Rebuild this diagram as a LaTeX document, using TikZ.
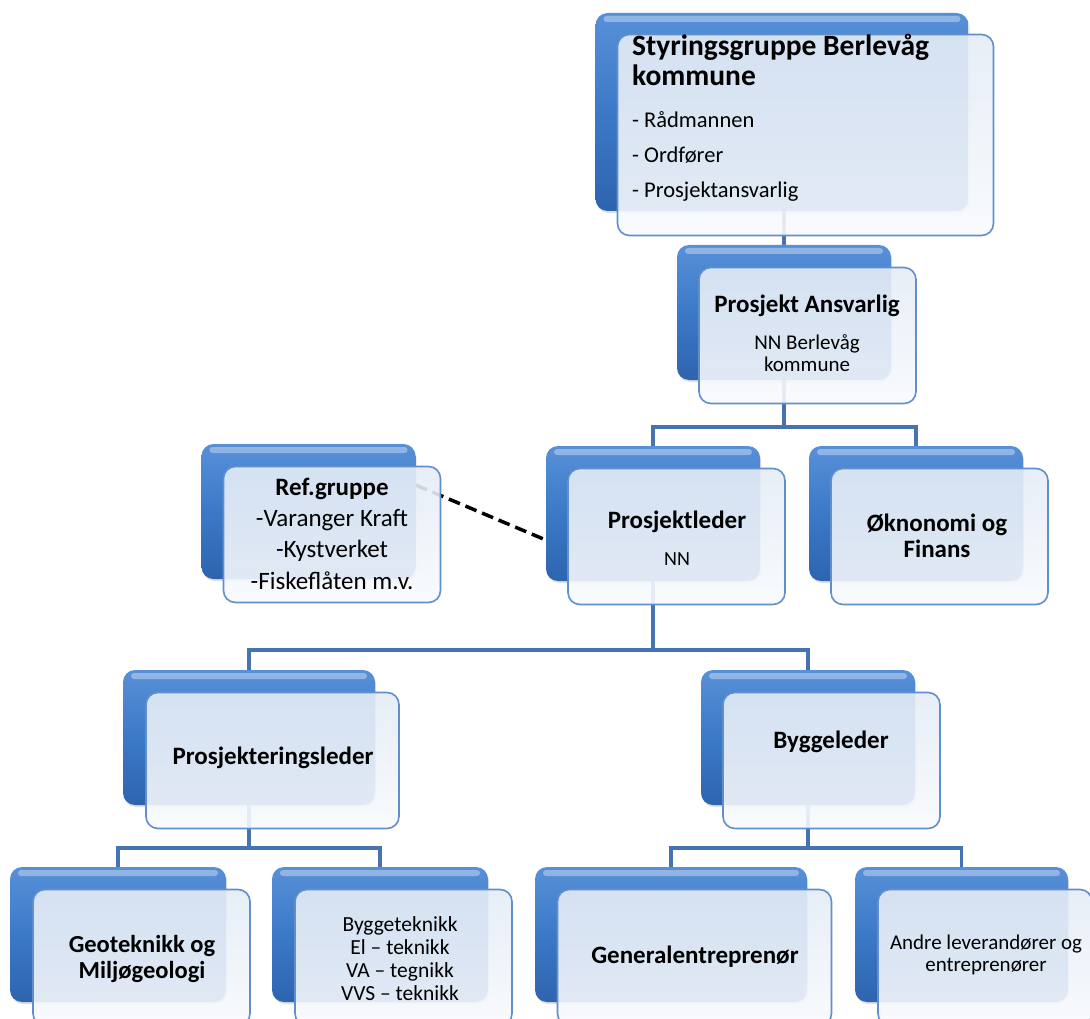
\documentclass[tikz,border=0pt]{standalone}
\usepackage{fontspec}
\setmainfont{Carlito}
\usetikzlibrary{shadows, backgrounds}

\definecolor{boxblue}{RGB}{59,121,199}
\definecolor{boxbluetop}{RGB}{88,144,216}
\definecolor{boxbluebot}{RGB}{46,100,174}
\definecolor{linkblue}{RGB}{70,116,178}
\definecolor{frontline}{RGB}{96,143,203}
\definecolor{fronttop}{RGB}{228,236,246}
\definecolor{frontbot}{RGB}{248,250,253}

\begin{document}
\begin{tikzpicture}[
        x=1pt, y=-1pt,
        back/.style={rectangle, rounded corners=12pt, top color=boxbluetop, bottom color=boxbluebot, middle color=boxblue,
            minimum width=214pt, minimum height=135pt,
            drop shadow={opacity=0.25, shadow xshift=1pt, shadow yshift=-2pt},
            path picture={\fill[white, opacity=0.35, rounded corners=3pt]
                ([xshift=8pt, yshift=-3pt]path picture bounding box.north west) rectangle
                ([xshift=-8pt, yshift=-9pt]path picture bounding box.north east);}},
        front/.style={rectangle, rounded corners=12pt, draw=frontline, line width=1.6pt, top color=fronttop, bottom color=frontbot,
            fill opacity=0.9, minimum width=217pt, minimum height=136pt},
        head/.style={anchor=north, inner sep=0pt, align=center, font=\fontsize{25}{26}\selectfont\bfseries},
        sub/.style={anchor=north, inner sep=0pt, align=center, font=\fontsize{21}{22}\selectfont},
        link/.style={draw=linkblue, line width=3.5pt},
        reflink/.style={draw=black, line width=3.5pt, dash pattern=on 12pt off 6pt}
    ]
        \useasboundingbox (0,0) rectangle (1090,1019);

        % Styringsgruppe
        \node[back, minimum width=373pt, minimum height=198pt] (sty) at (782,112) {};
        \node[front, minimum width=376pt, minimum height=201pt] (styF) at (805.5,135) {};
        \node[anchor=north west, inner sep=0pt, align=left, font=\fontsize{29.5}{30}\selectfont\bfseries] (styT) at (632,34) {Styringsgruppe Berlevåg\\kommune};
        \node[anchor=north west, inner sep=0pt, align=left, font=\fontsize{22.5}{35}\selectfont] (styL) at (632,111) {- Rådmannen\\- Ordfører\\- Prosjektansvarlig};

        % Prosjekt ansvarlig
        \node[back] (pa) at (784,312.5) {};
        \node[front] (paF) at (807.5,335.5) {};
        \node[head] (paT) at (807,295) {Prosjekt Ansvarlig};
        \node[sub] (paS) at (807,334) {NN Berlevåg\\kommune};

        % Ref.gruppe
        \node[back] (ref) at (308.5,511.5) {};
        \node[front] (refF) at (332,534.5) {};
        \node[head] (refT) at (332,478) {Ref.gruppe};
        \node[sub, font=\fontsize{25}{31.5}\selectfont] (refS) at (332,509) {-Varanger Kraft\\-Kystverket\\-Fiskeflåten m.v.};

        % Prosjektleder
        \node[back] (pl) at (653,513.5) {};
        \node[front] (plF) at (676.5,536.5) {};
        \node[head] (plT) at (677,511) {Prosjektleder};
        \node[sub, font=\fontsize{20}{20}\selectfont] (plS) at (677,552) {NN};

        % Okonomi
        \node[back] (ok) at (916,513.5) {};
        \node[front] (okF) at (939.5,536.5) {};
        \node[head] (okT) at (937,514) {Øknonomi og\\Finans};

        % Prosjekteringsleder
        \node[back, minimum width=252pt] (prl) at (249,737.5) {};
        \node[front, minimum width=253pt] (prlF) at (272.5,760.5) {};
        \node[head] (prlT) at (273,747) {Prosjekteringsleder};

        % Byggeleder
        \node[back] (bl) at (808,737.5) {};
        \node[front] (blF) at (831.5,760.5) {};
        \node[head] (blT) at (831,731) {Byggeleder};

        % Fag
        \node[back, minimum width=216pt] (geo) at (118,934.5) {};
        \node[front] (geoF) at (141.5,957.5) {};
        \node[head, font=\fontsize{24.5}{26}\selectfont\bfseries] (geoT) at (142,935) {Geoteknikk og\\Miljøgeologi};

        \node[back, minimum width=216pt] (byt) at (380,934.5) {};
        \node[front] (bytF) at (403.5,957.5) {};
        \node[sub, font=\fontsize{21.5}{23}\selectfont] (bytS) at (400,916) {Byggeteknikk\\El – teknikk\\VA – tegnikk\\VVS – teknikk};

        % Entreprenorer
        \node[back, minimum width=272pt] (gen) at (671,934.5) {};
        \node[front, minimum width=274pt] (genF) at (694.5,957.5) {};
        \node[head] (genT) at (695,946) {Generalentreprenør};

        \node[back, minimum width=213pt] (andre) at (961.5,934.5) {};
        \node[front, minimum width=214pt] (andreF) at (985,957.5) {};
        \node[sub, font=\fontsize{21}{22}\selectfont] (andreS) at (986,935) {Andre leverandører og\\entreprenører};

        % Lines
        \begin{scope}[on background layer]
            \draw[link] (sty.south -| pa.north) -- (pa.north);
            \draw[link] (pa.south) -- ++(0,47) coordinate (bus1);
            \draw[link] (pl.north) |- (bus1) -| (ok.north);
            \draw[link] (pl.south) -- ++(0,69) coordinate (bus2);
            \draw[link] (prl.north) |- (bus2) -| (bl.north);
            \draw[link] (prl.south) -- ++(0,43) coordinate (bus3);
            \draw[link] (geo.north) |- (bus3) -| (byt.north);
            \draw[link] (bl.south) -- ++(0,43) coordinate (bus4);
            \draw[link] (gen.north) |- (bus4) -| (andre.north);
            \draw[reflink] ([yshift=26.5pt]ref.east) -- ([yshift=-26.5pt]pl.west);
        \end{scope}
    \end{tikzpicture}
\end{document}
